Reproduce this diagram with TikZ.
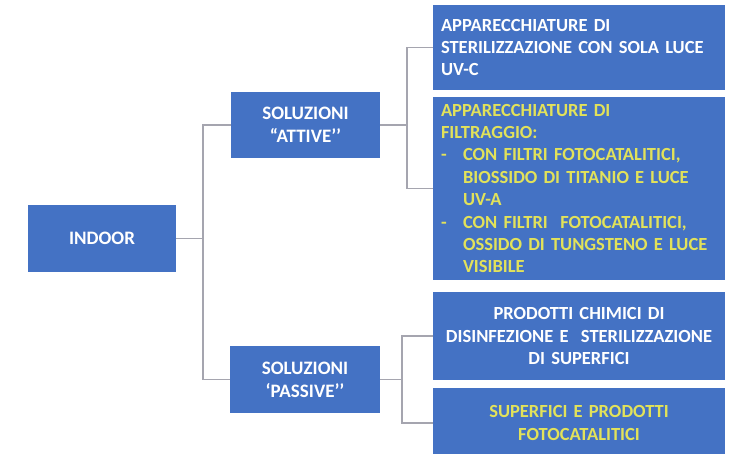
\documentclass[tikz,border=0pt]{standalone}
\usepackage{fontspec}
\setmainfont{Carlito}
\definecolor{boxblue}{RGB}{68,114,196}
\definecolor{txtyellow}{RGB}{226,226,90}
\definecolor{linegrey}{RGB}{165,165,175}
\newcommand{\itemdash}{\makebox[22pt][l]{-}}
\newcommand{\itemgap}{\hspace*{22pt}}

\begin{document}
\begin{tikzpicture}[x=1pt,y=-1pt,
box/.style = {fill=boxblue, text=white, inner sep=0pt,
    font=\bfseries\fontsize{19}{23}\selectfont},
wide/.style = {box, minimum width=292pt, text width=276pt,
    font=\bfseries\fontsize{18.5}{22.4}\selectfont},
link/.style = {draw=linegrey, line width=1.4pt}]
\clip (0,0) rectangle (744,453);
\fill[white] (0,0) rectangle (744,453);

\node[box, minimum width=148pt, minimum height=67pt] (indoor) at (102,238.5) {INDOOR};
\node[box, minimum width=149pt, minimum height=66pt, align=center] (attive) at (305.5,125)
    {SOLUZIONI\\“ATTIVE’’};
\node[box, minimum width=150pt, minimum height=67pt, align=center] (passive) at (305,379.5)
    {SOLUZIONI\\‘PASSIVE’’};

\node[wide, minimum height=85pt, align=left] (uvc) at (579,47.5)
    {APPARECCHIATURE DI\\STERILIZZAZIONE CON SOLA LUCE\\UV-C};
\node[wide, minimum height=183pt, align=left, text=txtyellow] (filtri) at (579,188.5)
    {APPARECCHIATURE DI\\FILTRAGGIO:\\
    \itemdash CON FILTRI FOTOCATALITICI,\\
    \itemgap BIOSSIDO DI TITANIO E LUCE\\
    \itemgap UV-A\\
    \itemdash CON FILTRI\ \ FOTOCATALITICI,\\
    \itemgap OSSIDO DI TUNGSTENO E LUCE\\
    \itemgap VISIBILE};
\node[wide, minimum height=88pt, align=center] (chimici) at (579,336)
    {PRODOTTI CHIMICI DI\\DISINFEZIONE E\ \ STERILIZZAZIONE\\DI SUPERFICI};
\node[wide, minimum height=70pt, align=center, text=txtyellow] (superfici) at (579,423)
    {SUPERFICI E PRODOTTI\\FOTOCATALITICI};

\coordinate (j1) at (203,238.5);
\coordinate (j2) at (407,125);
\coordinate (j3) at (402,379.5);

\draw[link] (indoor.east) -- (j1) |- (attive.west);
\draw[link] (j1) |- (passive.west);
\draw[link] (attive.east) -- (j2) |- (uvc.west);
\draw[link] (j2) |- (filtri.west);
\draw[link] (passive.east) -- (j3) |- (chimici.west);
\draw[link] (j3) |- (superfici.west);
\end{tikzpicture}
\end{document}
